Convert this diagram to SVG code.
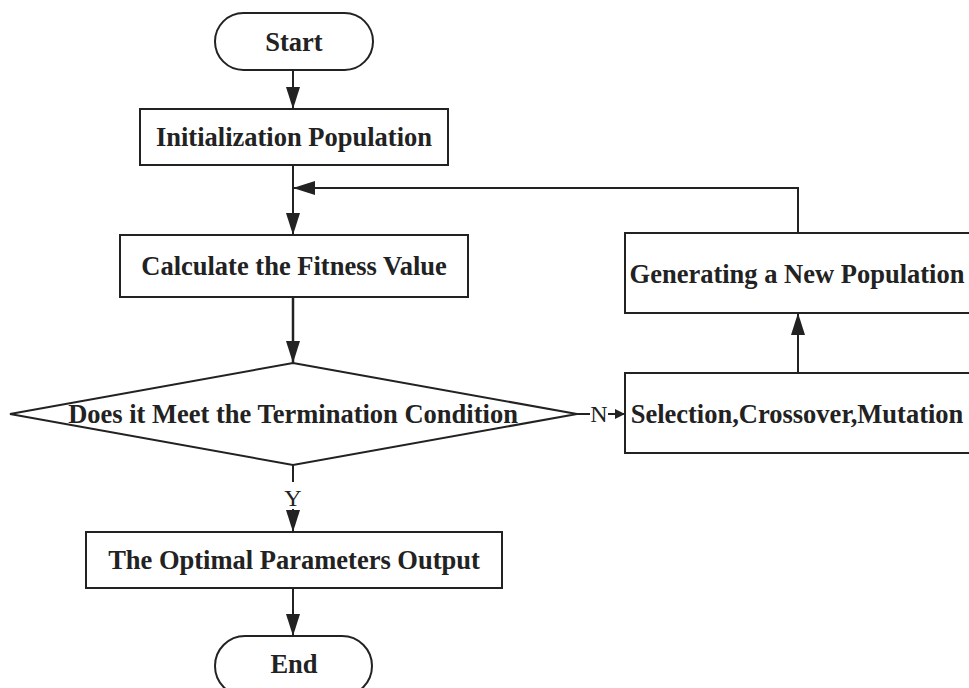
<svg xmlns="http://www.w3.org/2000/svg" width="969" height="688" viewBox="0 0 969 688">
<style>
.n{fill:#fff;stroke:#222;stroke-width:2}
.t{font-family:"Liberation Serif",serif;font-weight:bold;font-size:26.5px;fill:#222;text-anchor:middle}
.l{font-family:"Liberation Serif",serif;font-size:24px;fill:#222;text-anchor:middle}
.c{fill:none;stroke:#222;stroke-width:2}
</style>
<defs>
<marker id="a" markerWidth="10" markerHeight="10" refX="10" refY="5" orient="auto" markerUnits="userSpaceOnUse" viewBox="0 0 10 10">
<path d="M0,0 L10,5 L0,10 z" fill="#222"/>
</marker>
<marker id="b" markerWidth="22" markerHeight="14" refX="22" refY="7" orient="auto" markerUnits="userSpaceOnUse" viewBox="0 0 22 14">
<path d="M0,0 L22,7 L0,14 z" fill="#222"/>
</marker>
</defs>
<rect width="969" height="688" fill="#fff"/>
<g id="connectors">
<line class="c" x1="293" y1="70" x2="293" y2="109" marker-end="url(#b)"/>
<line class="c" x1="293" y1="165" x2="293" y2="235" marker-end="url(#b)"/>
<polyline class="c" points="798,233 798,188 293,188" marker-end="url(#b)"/>
<line class="c" x1="293" y1="297" x2="293" y2="363" marker-end="url(#b)" style="stroke-width:2.5"/>
<line class="c" x1="577" y1="414" x2="590" y2="414"/>
<line class="c" x1="608" y1="414" x2="625" y2="414" marker-end="url(#a)"/>
<text class="l" x="599" y="422">N</text>
<line class="c" x1="798" y1="373" x2="798" y2="313" marker-end="url(#b)"/>
<line class="c" x1="293" y1="465" x2="293" y2="482"/>
<text class="l" x="293" y="506">Y</text>
<line class="c" x1="293" y1="509" x2="293" y2="532" marker-end="url(#b)"/>
<line class="c" x1="293" y1="588" x2="293" y2="636" marker-end="url(#b)"/>
</g>
<g id="start">
<rect class="n" x="215" y="13" width="158" height="57" rx="28.5"/>
<text class="t" x="294" y="51">Start</text>
</g>
<g id="init">
<rect class="n" x="140" y="109" width="308" height="56"/>
<text class="t" x="294" y="146">Initialization Population</text>
</g>
<g id="fitness">
<rect class="n" x="120" y="235" width="348" height="62"/>
<text class="t" x="294" y="275">Calculate the Fitness Value</text>
</g>
<g id="decision">
<polygon class="n" points="293,363 577,414 293,465 10,414"/>
<text class="t" x="293" y="423">Does it Meet the Termination Condition</text>
</g>
<g id="select">
<rect class="n" x="625" y="373" width="360" height="80"/>
<text class="t" x="797" y="423">Selection,Crossover,Mutation</text>
</g>
<g id="generate">
<rect class="n" x="625" y="233" width="360" height="80"/>
<text class="t" x="797" y="283">Generating a New Population</text>
</g>
<g id="output">
<rect class="n" x="86" y="532" width="416" height="56"/>
<text class="t" x="294" y="569">The Optimal Parameters Output</text>
</g>
<g id="end">
<rect class="n" x="215" y="636" width="157" height="60" rx="30"/>
<text class="t" x="294" y="673">End</text>
</g>
</svg>
